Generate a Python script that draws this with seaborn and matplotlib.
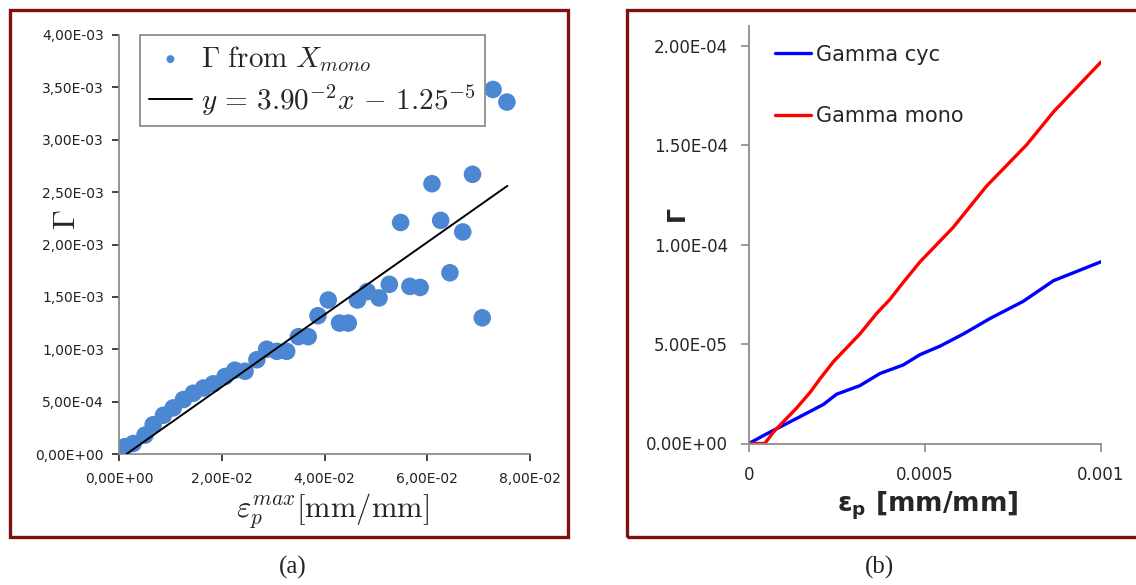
"""Gamma vs deformação plástica — painel (a) dispersão + ajuste, painel (b) curvas."""

import matplotlib

matplotlib.use("Agg")
import matplotlib.pyplot as plt
import pandas as pd
import seaborn as sns
from matplotlib.patches import Rectangle
from matplotlib.ticker import FuncFormatter

# ---------------------------------------------------------------------------
# Dados
# ---------------------------------------------------------------------------

# painel (a): Gamma obtido de X_mono
eps_max = [
    0.0011, 0.0027, 0.0050, 0.0066, 0.0086, 0.0105, 0.0125, 0.0144, 0.0164, 0.0183,
    0.0206, 0.0225, 0.0245, 0.0268, 0.0287, 0.0307, 0.0326, 0.0349, 0.0368, 0.0387,
    0.0407, 0.0429, 0.0446, 0.0464, 0.0483, 0.0506, 0.0526, 0.0548, 0.0566, 0.0586,
    0.0609, 0.0626, 0.0644, 0.0669, 0.0688, 0.0707, 0.0728, 0.0755,
]
gamma_mono_pts = [
    0.07e-3, 0.10e-3, 0.18e-3, 0.28e-3, 0.37e-3, 0.44e-3, 0.52e-3, 0.58e-3, 0.63e-3, 0.67e-3,
    0.74e-3, 0.80e-3, 0.79e-3, 0.90e-3, 1.00e-3, 0.98e-3, 0.98e-3, 1.12e-3, 1.12e-3, 1.32e-3,
    1.47e-3, 1.25e-3, 1.25e-3, 1.47e-3, 1.55e-3, 1.49e-3, 1.62e-3, 2.21e-3, 1.60e-3, 1.59e-3,
    2.58e-3, 2.23e-3, 1.73e-3, 2.12e-3, 2.67e-3, 1.30e-3, 3.48e-3, 3.36e-3,
]
# extremos da reta de ajuste desenhada
fit_x = [0.0014, 0.0756]
fit_y = [0.0, 2.56e-3]

# painel (b): curvas Gamma
eps_cyc = [0.0, 4.1e-5, 8.8e-5, 1.45e-4, 2.11e-4, 2.49e-4, 3.15e-4, 3.72e-4, 4.38e-4,
           4.86e-4, 5.43e-4, 6.09e-4, 6.85e-4, 7.79e-4, 8.65e-4, 1.0e-3]
gamma_cyc = [0.0, 4.0e-6, 8.3e-6, 1.35e-5, 1.96e-5, 2.48e-5, 2.91e-5, 3.52e-5, 3.95e-5,
             4.47e-5, 4.90e-5, 5.51e-5, 6.29e-5, 7.15e-5, 8.19e-5, 9.14e-5]
eps_mono = [0.0, 4.5e-5, 6.9e-5, 9.75e-5, 1.35e-4, 1.73e-4, 2.02e-4, 2.40e-4, 3.15e-4,
            3.63e-4, 4.0e-4, 4.38e-4, 4.86e-4, 5.80e-4, 6.75e-4, 7.89e-4, 8.65e-4, 1.0e-3]
gamma_mono = [0.0, 0.0, 5.7e-6, 1.09e-5, 1.78e-5, 2.56e-5, 3.26e-5, 4.12e-5, 5.51e-5,
              6.55e-5, 7.24e-5, 8.10e-5, 9.14e-5, 1.087e-4, 1.295e-4, 1.503e-4, 1.668e-4, 1.919e-4]

LEFT_YTICKS = [i * 5e-4 for i in range(9)]
LEFT_XTICKS = [0.0, 0.02, 0.04, 0.06, 0.08]
RIGHT_YTICKS = [0.0, 5e-5, 1e-4, 1.5e-4, 2e-4]
RIGHT_XTICKS = [0.0, 0.0005, 0.001]

AXIS_GREY = "#8c8c8c"
BORDA = "#7d1010"

# ---------------------------------------------------------------------------
# Estilo
# ---------------------------------------------------------------------------

sns.set_style("white")
plt.rcParams["font.family"] = ["DejaVu Sans"]
plt.rcParams["mathtext.fontset"] = "cm"


def _estilo_eixo(ax):
    sns.despine(ax=ax)
    for lado in ("left", "bottom"):
        ax.spines[lado].set_color(AXIS_GREY)
        ax.spines[lado].set_linewidth(1.3)
    ax.tick_params(axis="both", direction="out", color=AXIS_GREY, length=5, width=1.2,
                   left=True, bottom=True)


fig = plt.figure(figsize=(11.36, 5.85), dpi=100)

# bordas vermelho-escuras dos painéis
fig.patches.append(Rectangle((10 / 1136, 48 / 585), 558 / 1136, 527 / 585,
                             transform=fig.transFigure, fill=False, edgecolor=BORDA, lw=2.4))
fig.patches.append(Rectangle((627 / 1136, 48 / 585), 520 / 1136, 527 / 585,
                             transform=fig.transFigure, fill=False, edgecolor=BORDA, lw=2.4))

# ---------------------------------------------------------------------------
# Painel (a)
# ---------------------------------------------------------------------------

ax1 = fig.add_axes([119.3 / 1136, 131 / 585, 410.7 / 1136, 419 / 585])
df_a = pd.DataFrame({"eps": eps_max, "gamma": gamma_mono_pts})
sns.scatterplot(data=df_a, x="eps", y="gamma", ax=ax1, s=160, color="#4c87d3",
                edgecolor="none", label=r"$\Gamma\ \mathrm{from}\ X_{mono}$", zorder=2)
sns.lineplot(x=fit_x, y=fit_y, ax=ax1, color="black", lw=1.4,
             label=r"$y\,=\,3.90^{-2}x\,-\,1.25^{-5}$", zorder=3)

ax1.set_xlim(0, 0.08)
ax1.set_ylim(0, 4e-3)
ax1.set_xticks(LEFT_XTICKS)
ax1.set_yticks(LEFT_YTICKS)
fmt_virgula = FuncFormatter(lambda v, _: f"{v:.2E}".replace(".", ","))
ax1.xaxis.set_major_formatter(fmt_virgula)
ax1.yaxis.set_major_formatter(fmt_virgula)
_estilo_eixo(ax1)
ax1.tick_params(axis="both", labelsize=10, colors="#222222")
ax1.tick_params(axis="x", pad=8)
ax1.tick_params(axis="y", pad=6)
for t in ax1.get_xticklabels() + ax1.get_yticklabels():
    t.set_color("#222222")

ax1.set_xlabel(r"$\mathrm{\varepsilon}_p^{max}[\mathrm{mm/mm}]$", fontsize=22)
ax1.xaxis.set_label_coords(0.52, -0.09)
ax1.set_ylabel(r"$\Gamma$", fontsize=23)
ax1.yaxis.set_label_coords(-0.09, 0.56)

leg1 = ax1.legend(loc="upper left", bbox_to_anchor=(0.05, 1.0), borderaxespad=0,
                  fontsize=21, frameon=True, fancybox=False, framealpha=1,
                  edgecolor=AXIS_GREY, handlelength=1.5, handletextpad=0.3,
                  borderpad=0.3, labelspacing=0.3, markerscale=0.45)
leg1.get_frame().set_linewidth(1.3)

# ---------------------------------------------------------------------------
# Painel (b)
# ---------------------------------------------------------------------------

ax2 = fig.add_axes([749 / 1136, 141.5 / 585, 352 / 1136, 417.5 / 585])
sns.lineplot(x=eps_cyc, y=gamma_cyc, ax=ax2, color="#0000ff", lw=2.4, label="Gamma cyc")
sns.lineplot(x=eps_mono, y=gamma_mono, ax=ax2, color="#ff0000", lw=2.4, label="Gamma mono")

ax2.set_xlim(0, 0.001)
ax2.set_ylim(0, 2.1e-4)
ax2.set_xticks(RIGHT_XTICKS)
ax2.set_yticks(RIGHT_YTICKS)
ax2.xaxis.set_major_formatter(FuncFormatter(lambda v, _: f"{v:g}"))
ax2.yaxis.set_major_formatter(FuncFormatter(lambda v, _: f"{v:.2E}"))
_estilo_eixo(ax2)
ax2.tick_params(axis="both", labelsize=12, length=6)
ax2.tick_params(axis="x", pad=10)
ax2.tick_params(axis="y", pad=9)

ax2.set_xlabel(r"$\mathbf{\varepsilon_p}$ [mm/mm]", fontsize=19, fontweight="bold",
               math_fontfamily="dejavusans")
ax2.xaxis.set_label_coords(0.508, -0.11)
ax2.set_ylabel("Γ", fontsize=17, fontweight="bold")
ax2.yaxis.set_label_coords(-0.17, 0.55)

ax2.legend(loc="upper left", bbox_to_anchor=(0.075, 0.955), borderaxespad=0, borderpad=0,
           frameon=False, fontsize=15, handlelength=1.7, handletextpad=0.25,
           labelspacing=2.0)

# legendas (a) e (b)
fig.text(293 / 1136, 18 / 585, "(a)", ha="center", va="center",
         family="Liberation Serif", fontsize=18)
fig.text(880 / 1136, 18 / 585, "(b)", ha="center", va="center",
         family="Liberation Serif", fontsize=18)

fig.savefig("out.png", dpi=100)
plt.close(fig)
